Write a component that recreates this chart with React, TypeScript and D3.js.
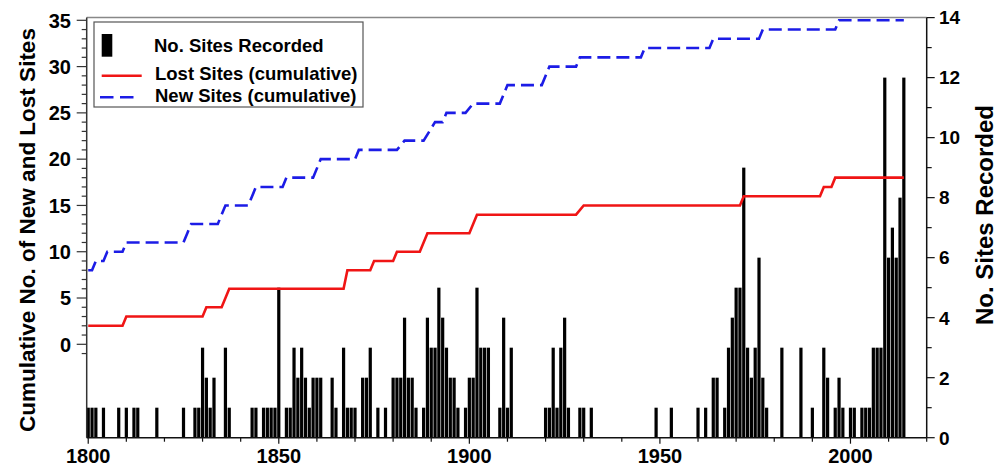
import React from "react";
import * as d3 from "d3";

// ---- Data ----
const barYears = [1800,1801,1802,1804,1808,1810,1812,1813,1818,1825,1828,1829,1830,1831,1832,1833,1836,1837,1843,1844,1846,1847,1848,1849,1850,1852,1853,1854,1855,1856,1857,1858,1859,1860,1861,1864,1865,1867,1868,1869,1870,1872,1873,1874,1876,1878,1880,1881,1882,1883,1884,1885,1886,1888,1889,1890,1891,1892,1893,1894,1895,1896,1897,1899,1900,1901,1902,1903,1904,1905,1908,1909,1910,1911,1920,1921,1922,1923,1924,1925,1926,1929,1930,1932,1949,1953,1960,1962,1964,1965,1967,1968,1969,1970,1971,1972,1973,1974,1975,1976,1977,1978,1982,1987,1990,1993,1994,1996,1997,1998,2000,2001,2003,2004,2005,2006,2007,2008,2009,2010,2011,2012,2013,2014];
const barCounts = [1,1,1,1,1,1,1,1,1,1,1,1,3,2,1,2,3,1,1,1,1,1,1,1,5,1,1,3,2,3,2,1,2,2,2,2,1,3,1,1,1,2,2,3,1,1,2,2,2,4,2,2,1,1,4,3,3,5,4,3,2,2,1,1,2,2,5,3,3,3,1,4,1,3,1,1,3,1,3,4,1,1,1,1,1,1,1,1,2,2,1,3,4,5,5,9,3,2,3,6,2,1,3,3,1,3,2,1,2,1,1,1,1,1,1,3,3,3,12,6,7,6,8,12];

const lostYears = [1800,1809,1810,1830,1831,1835,1837,1867,1868,1874,1875,1880,1881,1887,1889,1900,1902,1928,1930,1971,1972,1992,1993,1995,1996,2014];
const lostValues = [2,2,3,3,4,4,6,6,8,8,9,9,10,10,12,12,14,14,15,15,16,16,17,17,18,18];

const newYears = [1800,1801,1802,1804,1805,1809,1810,1825,1826,1827,1834,1836,1842,1843,1844,1851,1852,1859,1861,1870,1871,1881,1883,1888,1891,1893,1894,1899,1901,1908,1910,1919,1921,1928,1929,1945,1946,1963,1964,1976,1977,1996,1997,2014];
const newValues = [8,8,9,9,10,10,11,11,12,13,13,15,15,16,17,17,18,18,20,20,21,21,22,22,24,24,25,25,26,26,28,28,30,30,31,31,32,32,33,33,34,34,35,35];

const leftMajorTicks = [0,5,10,15,20,25,30,35];
const rightMajorTicks = [0,2,4,6,8,10,12,14];
const xMajorTicks = [1800,1850,1900,1950,2000];

const legendLabels = ["No. Sites Recorded", "Lost Sites (cumulative)", "New Sites (cumulative)"];
const leftTitle = "Cumulative No. of New and Lost Sites";
const rightTitle = "No. Sites Recorded";

export default function App() {
  const W = 1005, H = 467;
  const L = 86.7, R = 926.7, T = 17.4, B = 437.7;
  const x = d3.scaleLinear().domain([1799.6, 2020]).range([L, R]);
  const yR = d3.scaleLinear().domain([0, 14]).range([B, 17.6]);
  const yL = d3.scaleLinear().domain([0, 35]).range([344.3, 20.3]);
  const bw = x(1801) - x(1800);
  const font = "'Liberation Sans', Arial, sans-serif";

  const lost = lostYears.map((yr, i) => [yr, lostValues[i]] as [number, number]);
  const neu = newYears.map((yr, i) => [yr, newValues[i]] as [number, number]);
  const line = d3.line<[number, number]>().x(d => x(d[0])).y(d => yL(d[1]));

  const leftMinor = d3.range(-1, 36);
  const rightMinor = d3.range(0, 15);
  const xMinor = d3.range(1800, 2021, 10);

  return (
    <svg width={W} height={H} style={{ position: "absolute", left: 0, top: 0, background: "#fff" }} fontFamily={font}>
      {/* bars */}
      {barYears.map((yr, i) => (
        <rect key={yr} x={x(yr) - bw / 2 + 0.3} width={bw - 0.6} y={yR(barCounts[i])} height={B - yR(barCounts[i])} fill="#000" />
      ))}
      {/* frame */}
      <line x1={L} x2={R} y1={T} y2={T} stroke="#888" strokeWidth={1.5} />
      <line x1={L} x2={L} y1={T} y2={B} stroke="#333" strokeWidth={1.5} />
      <line x1={R} x2={R} y1={T} y2={B} stroke="#111" strokeWidth={1.5} />
      <line x1={L} x2={R} y1={B} y2={B} stroke="#111" strokeWidth={1.5} />
      {/* lines */}
      <path d={line(lost) || ""} fill="none" stroke="#f01515" strokeWidth={2.6} />
      <path d={line(neu) || ""} fill="none" stroke="#1c1ce6" strokeWidth={2.6} strokeDasharray="13 6" />
      {/* left axis ticks */}
      {leftMinor.map(v => (
        <line key={"lm" + v} x1={L - (v % 5 === 0 ? 10 : 5)} x2={L} y1={yL(v)} y2={yL(v)} stroke="#333" strokeWidth={1.2} />
      ))}
      {leftMajorTicks.map(v => (
        <text key={"lt" + v} x={71} y={yL(v)} dy="0.36em" textAnchor="end" fontSize={20} fontWeight="bold">{v}</text>
      ))}
      {/* right axis ticks */}
      {rightMinor.map(v => (
        <line key={"rm" + v} x1={R} x2={R + (v % 2 === 0 ? 8 : 5)} y1={yR(v)} y2={yR(v)} stroke="#111" strokeWidth={1.2} />
      ))}
      {rightMajorTicks.map(v => (
        <text key={"rt" + v} x={939} y={yR(v)} dy="0.36em" textAnchor="start" fontSize={19} fontWeight="bold">{v}</text>
      ))}
      {/* x axis ticks */}
      {xMinor.map(v => (
        <line key={"xm" + v} x1={x(v)} x2={x(v)} y1={B} y2={B + (v % 50 === 0 ? 6 : 4)} stroke="#111" strokeWidth={1.2} />
      ))}
      {xMajorTicks.map(v => (
        <text key={"xt" + v} x={x(v)} y={463} textAnchor="middle" fontSize={20} fontWeight="bold">{v}</text>
      ))}
      {/* titles */}
      <text transform={`translate(35,${230}) rotate(-90)`} textAnchor="middle" fontSize={22.5} fontWeight="bold">{leftTitle}</text>
      <text transform={`translate(993,${215}) rotate(-90)`} textAnchor="middle" fontSize={24} fontWeight="bold">{rightTitle}</text>
      {/* legend */}
      <rect x={94} y={22} width={269} height={85} fill="#fff" stroke="#555" strokeWidth={1.2} />
      <rect x={101.7} y={34} width={10.6} height={22.7} fill="#000" />
      <text x={154} y={52} fontSize={18.5} fontWeight="bold">{legendLabels[0]}</text>
      <line x1={101.7} x2={141.7} y1={75.7} y2={75.7} stroke="#f01515" strokeWidth={2.6} />
      <text x={155} y={79.5} fontSize={18.5} fontWeight="bold">{legendLabels[1]}</text>
      <line x1={100} x2={134} y1={97.3} y2={97.3} stroke="#1c1ce6" strokeWidth={2.6} strokeDasharray="13.5 6.5" />
      <text x={155} y={102} fontSize={18.5} fontWeight="bold">{legendLabels[2]}</text>
    </svg>
  );
}
